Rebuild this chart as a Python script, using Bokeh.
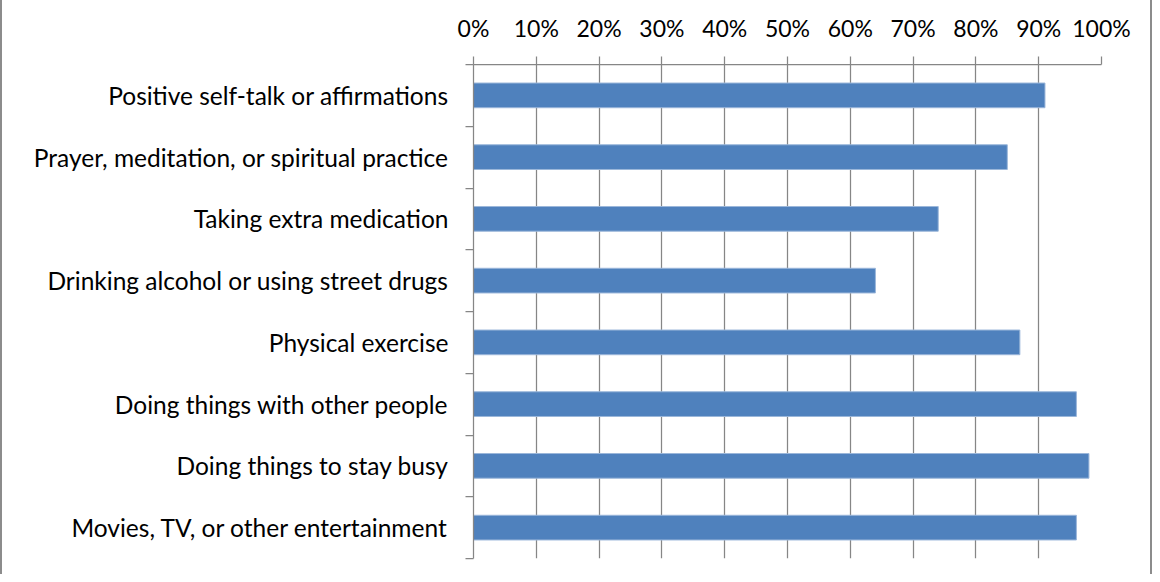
from bokeh.plotting import figure
from bokeh.models import Range1d, FixedTicker
from bokeh.embed import file_html
from bokeh.resources import INLINE

categories = [
    "Positive self-talk or affirmations",
    "Prayer, meditation, or spiritual practice",
    "Taking extra medication",
    "Drinking alcohol or using street drugs",
    "Physical exercise",
    "Doing things with other people",
    "Doing things to stay busy",
    "Movies, TV, or other entertainment",
]
values = [0.91, 0.85, 0.74, 0.64, 0.87, 0.96, 0.98, 0.96]
x_ticks = [0.0, 0.1, 0.2, 0.3, 0.4, 0.5, 0.6, 0.7, 0.8, 0.9, 1.0]
x_tick_labels = ["0%", "10%", "20%", "30%", "40%", "50%", "60%", "70%", "80%", "90%", "100%"]

n = len(categories)
centers = [n - 1 - i + 0.5 for i in range(n)]
boundaries = [float(i) for i in range(n + 1)]

FONT = "Lato"
GRID = "#868686"
GW = 1.25

p = figure(width=1152, height=574, output_backend="svg", toolbar_location=None,
           x_range=Range1d(0, 1), y_range=Range1d(0, n),
           x_axis_location="above", y_axis_location="left",
           min_border_left=471, min_border_right=53, min_border_top=64, min_border_bottom=16)
p.outline_line_color = None
p.background_fill_color = "white"
p.border_fill_color = "white"

p.hbar(y=centers, right=values, left=0, height=0.4, fill_color="#4F81BD",
       line_color="#9bb7da", line_width=1)

xa = p.xaxis[0]
xa.ticker = FixedTicker(ticks=x_ticks)
xa.major_label_overrides = {t: l for t, l in zip(x_ticks, x_tick_labels)}
xa.major_tick_out = 8
xa.major_tick_in = 0
xa.minor_tick_out = 0
xa.minor_tick_in = 0
xa.axis_line_color = GRID
xa.axis_line_width = GW
xa.major_tick_line_color = GRID
xa.major_tick_line_width = GW
xa.major_label_text_font = FONT
xa.major_label_text_font_size = "23px"
xa.major_label_text_color = "black"
xa.major_label_standoff = 15

ya = p.yaxis[0]
ya.ticker = FixedTicker(ticks=centers, minor_ticks=boundaries)
ya.major_label_overrides = {c: cat for c, cat in zip(centers, categories)}
ya.major_tick_out = 0
ya.major_tick_in = 0
ya.minor_tick_out = 8
ya.minor_tick_in = 0
ya.axis_line_color = GRID
ya.axis_line_width = GW
ya.minor_tick_line_color = GRID
ya.minor_tick_line_width = GW
ya.major_label_text_font = FONT
ya.major_label_text_font_size = "24.5px"
ya.major_label_text_color = "black"
ya.major_label_standoff = 17

p.xgrid.grid_line_color = GRID
p.xgrid.grid_line_width = GW
p.xgrid.ticker = FixedTicker(ticks=x_ticks)
p.ygrid.grid_line_color = None

p.styles = {"border-right": "2px solid #8c8c8c", "border-left": "2px solid #8c8c8c"}

open("out.html", "w").write(file_html(p, INLINE))
